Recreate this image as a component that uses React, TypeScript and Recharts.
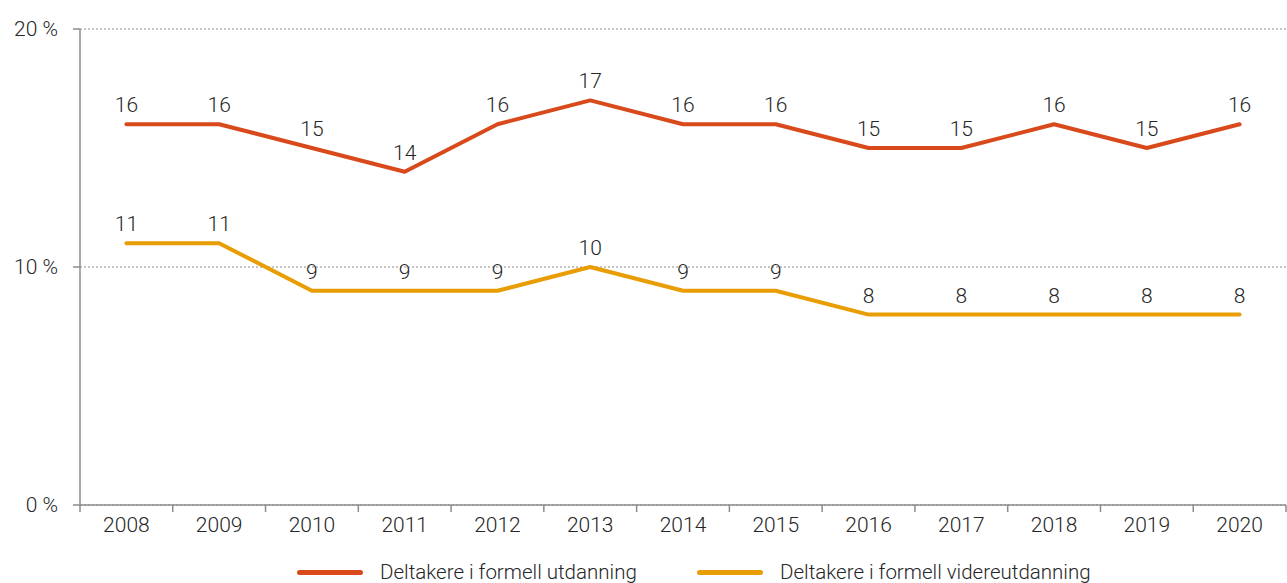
import React from "react";
import {
  LineChart,
  Line,
  XAxis,
  YAxis,
  CartesianGrid,
  LabelList,
} from "recharts";

const years = ["2008", "2009", "2010", "2011", "2012", "2013", "2014", "2015", "2016", "2017", "2018", "2019", "2020"];
const formell = [16, 16, 15, 14, 16, 17, 16, 16, 15, 15, 16, 15, 16];
const videre = [11, 11, 9, 9, 9, 10, 9, 9, 8, 8, 8, 8, 8];
const yTicks = [0, 10, 20];

const RED = "#d84a1b";
const ORANGE = "#e99d05";
const AXIS = "#8c8c8c";
const TEXT = "#262626";
const FONT = "Roboto, sans-serif";

const W = 1287;
const H = 583;
const LEFT = 80;
const RIGHT_MARGIN = 1;
const bandWidth = (W - LEFT - RIGHT_MARGIN) / years.length;

const X_TICK_SIZE = 7;
const X_TICK_MARGIN = 5;

const data = years.map((y, i) => ({ year: y, formell: formell[i], videre: videre[i] }));

// category ticks sit in the middle of each band, tick marks go on the band edges
const XTick = (props: any) => {
  const { x, y, payload, index } = props;
  const left = x - bandWidth / 2;
  const axisY = y - X_TICK_SIZE - X_TICK_MARGIN;
  return (
    <g>
      <line x1={left} x2={left} y1={axisY} y2={axisY + X_TICK_SIZE} stroke={AXIS} strokeWidth={1.5} />
      {index === years.length - 1 && (
        <line x1={left + bandWidth} x2={left + bandWidth} y1={axisY} y2={axisY + X_TICK_SIZE} stroke={AXIS} strokeWidth={1.5} />
      )}
      <text x={x} y={y} dy="0.71em" textAnchor="middle" fill={TEXT} fontSize={21} fontWeight={300} fontFamily={FONT}>
        {payload.value}
      </text>
    </g>
  );
};

const legendItems = [
  { label: "Deltakere i formell utdanning", color: RED, x: 297 },
  { label: "Deltakere i formell videreutdanning", color: ORANGE, x: 697 },
];

export default function App() {
  return (
    <div style={{ position: "absolute", left: 0, top: 0, width: W, height: H, background: "#fff" }}>
      <LineChart
        width={W}
        height={H}
        data={data}
        margin={{ top: 29, right: RIGHT_MARGIN, bottom: 38, left: 0 }}
      >
        <CartesianGrid vertical={false} horizontal stroke="#8c8c8c" strokeDasharray="2 2" />
        <XAxis
          dataKey="year"
          scale="band"
          height={40}
          axisLine={{ stroke: AXIS, strokeWidth: 1.5 }}
          tickLine={false}
          tickSize={X_TICK_SIZE}
          tickMargin={X_TICK_MARGIN}
          tick={<XTick />}
          interval={0}
        />
        <YAxis
          domain={[0, 20]}
          ticks={yTicks}
          width={LEFT}
          axisLine={{ stroke: AXIS, strokeWidth: 1.5 }}
          tickLine={{ stroke: AXIS, strokeWidth: 1.5 }}
          tickSize={7}
          tickMargin={15}
          tickFormatter={(v: number) => `${v} %`}
          tick={{ fill: TEXT, fontSize: 21, fontWeight: 300, fontFamily: FONT }}
        />
        <Line
          dataKey="formell"
          stroke={RED}
          strokeWidth={4}
          strokeLinecap="round"
          strokeLinejoin="round"
          dot={false}
          isAnimationActive={false}
        >
          <LabelList dataKey="formell" position="top" offset={12} fill={TEXT} fontSize={21} fontWeight={300} fontFamily={FONT} />
        </Line>
        <Line
          dataKey="videre"
          stroke={ORANGE}
          strokeWidth={4}
          strokeLinecap="round"
          strokeLinejoin="round"
          dot={false}
          isAnimationActive={false}
        >
          <LabelList dataKey="videre" position="top" offset={12} fill={TEXT} fontSize={21} fontWeight={300} fontFamily={FONT} />
        </Line>
      </LineChart>
      {legendItems.map((item) => (
        <div
          key={item.label}
          style={{
            position: "absolute",
            left: item.x,
            top: 559,
            height: 26,
            display: "flex",
            alignItems: "center",
            fontFamily: FONT,
            fontWeight: 300,
            fontSize: 20.5,
            color: TEXT,
            whiteSpace: "nowrap",
          }}
        >
          <span style={{ display: "inline-block", width: 66, height: 5, borderRadius: 3, background: item.color, marginRight: 17 }} />
          {item.label}
        </div>
      ))}
    </div>
  );
}
